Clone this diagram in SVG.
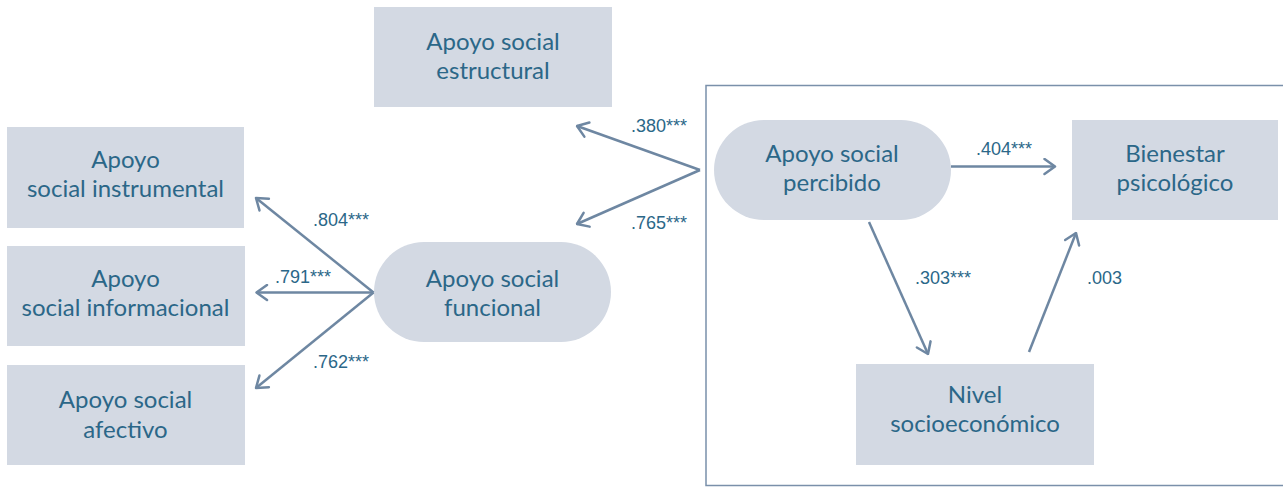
<svg xmlns="http://www.w3.org/2000/svg" width="1283" height="487" viewBox="0 0 1283 487">
  <style>
    .box { fill: #d3d9e3; }
    .lbl { font-family: Lato, "Noto Sans", sans-serif; font-size: 24px; fill: #2b6788; text-anchor: middle; }
    .num { font-family: "Liberation Sans", Arial, sans-serif; font-size: 18px; fill: #2b6788; }
    .edge { stroke: #6e87a2; stroke-width: 2.5; fill: none; marker-end: url(#arr); }
    .frame { fill: none; stroke: #7a90aa; stroke-width: 1.5; }
  </style>
  <defs>
    <marker id="arr" markerUnits="userSpaceOnUse" viewBox="0 0 14 18" markerWidth="14" markerHeight="18" refX="12.5" refY="9" orient="auto">
      <path d="M2,1.5 L12.5,9 L2,16.5" fill="none" stroke="#6e87a2" stroke-width="2.5" stroke-linecap="round" stroke-linejoin="round"/>
    </marker>
  </defs>
  <rect width="1283" height="487" fill="#ffffff"/>
  <rect class="frame" x="706" y="85.5" width="600" height="400"/>

  <g id="estructural">
    <rect class="box" x="374" y="7" width="238" height="100"/>
    <text class="lbl" x="493" y="50">Apoyo social</text>
    <text class="lbl" x="493" y="79">estructural</text>
  </g>
  <g id="instrumental">
    <rect class="box" x="7" y="127" width="237" height="101"/>
    <text class="lbl" x="125.5" y="168">Apoyo</text>
    <text class="lbl" x="125.5" y="197">social instrumental</text>
  </g>
  <g id="informacional">
    <rect class="box" x="7" y="246" width="238" height="100"/>
    <text class="lbl" x="125.5" y="287">Apoyo</text>
    <text class="lbl" x="125.5" y="316">social informacional</text>
  </g>
  <g id="afectivo">
    <rect class="box" x="7" y="365" width="238" height="100"/>
    <text class="lbl" x="125.5" y="408">Apoyo social</text>
    <text class="lbl" x="125.5" y="438">afectivo</text>
  </g>
  <g id="funcional">
    <rect class="box" x="374" y="242" width="237" height="100" rx="50" ry="50"/>
    <text class="lbl" x="492.5" y="287">Apoyo social</text>
    <text class="lbl" x="492.5" y="316">funcional</text>
  </g>
  <g id="percibido">
    <rect class="box" x="714" y="120" width="237" height="100" rx="50" ry="50"/>
    <text class="lbl" x="832" y="162">Apoyo social</text>
    <text class="lbl" x="832" y="191">percibido</text>
  </g>
  <g id="bienestar">
    <rect class="box" x="1072" y="120" width="206" height="100"/>
    <text class="lbl" x="1175" y="162">Bienestar</text>
    <text class="lbl" x="1175" y="191">psicológico</text>
  </g>
  <g id="nivel">
    <rect class="box" x="856" y="364" width="238" height="101"/>
    <text class="lbl" x="975" y="403">Nivel</text>
    <text class="lbl" x="975" y="432">socioeconómico</text>
  </g>

  <g id="connectors">
    <line class="edge" x1="700" y1="170" x2="577" y2="126"/>
    <line class="edge" x1="700" y1="170" x2="577" y2="224"/>
    <line class="edge" x1="373.5" y1="292.5" x2="256" y2="198"/>
    <line class="edge" x1="373.5" y1="292.5" x2="256.5" y2="292.5"/>
    <line class="edge" x1="373.5" y1="292.5" x2="256" y2="388"/>
    <line class="edge" x1="951" y1="166.5" x2="1055" y2="166.5"/>
    <line class="edge" x1="869" y1="222" x2="928" y2="354"/>
    <line class="edge" x1="1029" y1="352" x2="1076" y2="233"/>
  </g>

  <g id="labels">
    <text class="num" x="631" y="132">.380***</text>
    <text class="num" x="631" y="229">.765***</text>
    <text class="num" x="313" y="226">.804***</text>
    <text class="num" x="275" y="283">.791***</text>
    <text class="num" x="313" y="368">.762***</text>
    <text class="num" x="976" y="155">.404***</text>
    <text class="num" x="915" y="284">.303***</text>
    <text class="num" x="1087" y="284">.003</text>
  </g>
</svg>
